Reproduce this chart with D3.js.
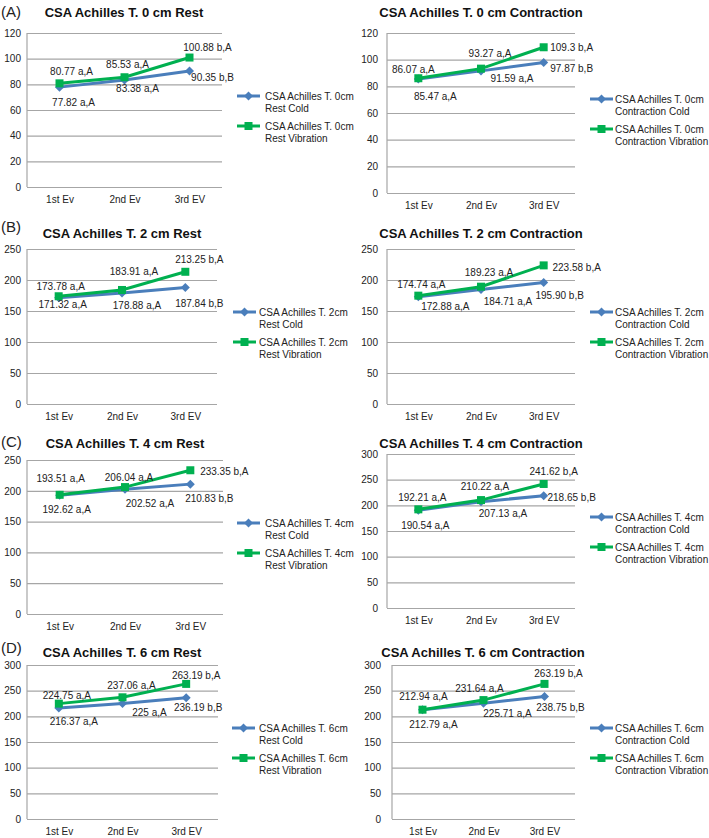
<!DOCTYPE html>
<html>
<head>
<meta charset="utf-8">
<script src="https://cdn.jsdelivr.net/npm/d3@7"></script>
<style>
  body { margin: 0; background: #fff; }
  svg { font-family: "Liberation Sans", Arial, sans-serif; }
</style>
</head>
<body>
<div id="chart"></div>
<script>
// data
const categories = ["1st Ev", "2nd Ev", "3rd EV"];
const rowLetters = ["(A)", "(B)", "(C)", "(D)"];
const titles = [
    "CSA Achilles T. 0 cm Rest", "CSA Achilles T. 0 cm Contraction",
    "CSA Achilles T. 2 cm Rest", "CSA Achilles T. 2 cm Contraction",
    "CSA Achilles T. 4 cm Rest", "CSA Achilles T. 4 cm Contraction",
    "CSA Achilles T. 6 cm Rest", "CSA Achilles T. 6 cm Contraction"
];
const legendHeads = ["CSA Achilles T. 0cm", "CSA Achilles T. 0cm", "CSA Achilles T. 2cm", "CSA Achilles T. 2cm",
    "CSA Achilles T. 4cm", "CSA Achilles T. 4cm", "CSA Achilles T. 6cm", "CSA Achilles T. 6cm"];
const conditions = ["Rest", "Contraction", "Rest", "Contraction", "Rest", "Contraction", "Rest", "Contraction"];
// values kept as printed strings (the figure prints 195.90 and 225)
const coldValues = [
    ["77.82", "83.38", "90.35"], ["85.47", "91.59", "97.87"],
    ["171.32", "178.88", "187.84"], ["172.88", "184.71", "195.90"],
    ["192.62", "202.52", "210.83"], ["190.54", "207.13", "218.65"],
    ["216.37", "225", "236.19"], ["212.79", "225.71", "238.75"]
];
const vibValues = [
    ["80.77", "85.53", "100.88"], ["86.07", "93.27", "109.3"],
    ["173.78", "183.91", "213.25"], ["174.74", "189.23", "223.58"],
    ["193.51", "206.04", "233.35"], ["192.21", "210.22", "241.62"],
    ["224.75", "237.06", "263.19"], ["212.94", "231.64", "263.19"]
];
const coldLetters = ["a,A", "a,A", "b,B"];
const vibLetters = ["a,A", "a,A", "b,A"];
const yMax = [120, 120, 250, 250, 250, 300, 300, 300];
const yStep = [20, 20, 50, 50, 50, 50, 50, 50];

// layout (pixels)
const layouts = [
    {x0: 27, x1: 222, y0: 33, y1: 187, tx: 124, ty: 12, lx: 237, ly: 96, ltx: 265, pad: 6},
    {x0: 387, x1: 575, y0: 33, y1: 193, tx: 481, ty: 12, lx: 590, ly: 99, ltx: 615, pad: 9},
    {x0: 27, x1: 217, y0: 249, y1: 404, tx: 122, ty: 233, lx: 233, ly: 312, ltx: 259, pad: 6},
    {x0: 387, x1: 575, y0: 249, y1: 404, tx: 481, ty: 233, lx: 590, ly: 312, ltx: 615, pad: 9},
    {x0: 27, x1: 223, y0: 460, y1: 614, tx: 125, ty: 443, lx: 237, ly: 523, ltx: 265, pad: 6},
    {x0: 387, x1: 575, y0: 454, y1: 608, tx: 481, ty: 443, lx: 590, ly: 517, ltx: 615, pad: 9},
    {x0: 27, x1: 218, y0: 665, y1: 819, tx: 122, ty: 652, lx: 232, ly: 728, ltx: 259, pad: 6},
    {x0: 392, x1: 575, y0: 665, y1: 819, tx: 483, ty: 652, lx: 590, ly: 728, ltx: 615, pad: 11}
];
const rowLetterY = [12, 227, 442, 648];
// data label nudges [dx, dy] from the point
const coldNudge = [
    [[14, 15], [13, 9], [23, 6]], [[17, 17], [31, 8], [28, 6]],
    [[4, 7], [15, 12], [14, 16]], [[27, 10], [27, 12], [16, 13]],
    [[7, 14], [25, 14], [19, 14]], [[7, 15], [22, 12], [28, 2]],
    [[15, 14], [27, 9], [12, 10]], [[11, 15], [24, 10], [16, 11]]
];
const vibNudge = [
    [[12, -12], [3, -13], [18, -10]], [[-5, -9], [9, -15], [28, 0]],
    [[2, -10], [12, -18], [14, -12]], [[3, -11], [8, -14], [33, 2]],
    [[1, -16], [4, -10], [34, 1]], [[4, -12], [4, -14], [10, -12]],
    [[8, -8], [9, -12], [10, -8]], [[1, -13], [-4, -12], [14, -10]]
];

const blue = "#4a7ebb", green = "#00b050", grid = "#a6a6a6";

const svg = d3.select("#chart").append("svg")
    .attr("width", 709).attr("height", 838);

rowLetters.forEach((t, i) => {
    svg.append("text").attr("x", 1).attr("y", rowLetterY[i]).attr("dy", "0.35em")
        .attr("font-size", 15).attr("fill", "#222").text(t);
});

function drawMarker(g, kind, x, y, color) {
    if (kind === "square") {
        g.append("rect").attr("x", x - 4).attr("y", y - 4).attr("width", 8).attr("height", 8).attr("fill", color);
    } else {
        g.append("path").attr("d", `M${x},${y - 4.5}L${x + 4.5},${y}L${x},${y + 4.5}L${x - 4.5},${y}Z`).attr("fill", color);
    }
}

titles.forEach((title, p) => {
    const L = layouts[p];
    const g = svg.append("g");
    const x = d3.scalePoint().domain(categories).range([L.x0, L.x1]).padding(0.5);
    const y = d3.scaleLinear().domain([0, yMax[p]]).range([L.y1, L.y0]);

    g.append("text").attr("x", L.tx).attr("y", L.ty).attr("dy", "0.35em")
        .attr("text-anchor", "middle").attr("font-size", 13).attr("font-weight", "bold")
        .attr("fill", "#111").text(title);

    const yAxis = g.append("g").attr("transform", `translate(${L.x0},0)`)
        .call(d3.axisLeft(y).tickValues(d3.range(0, yMax[p] + 1, yStep[p]))
            .tickSize(-(L.x1 - L.x0)).tickPadding(L.pad));
    yAxis.select(".domain").remove();
    yAxis.selectAll(".tick line").attr("stroke", grid).attr("stroke-width", 1.2);
    yAxis.selectAll(".tick text").attr("font-size", 10).attr("fill", "#222")
        .attr("font-family", "Liberation Sans, Arial, sans-serif");

    g.append("line").attr("x1", L.x0).attr("x2", L.x0).attr("y1", L.y0).attr("y2", L.y1)
        .attr("stroke", grid).attr("stroke-width", 1.2);

    const xAxis = g.append("g").attr("transform", `translate(0,${L.y1})`)
        .call(d3.axisBottom(x).tickSize(0).tickPadding(9));
    xAxis.select(".domain").remove();
    xAxis.selectAll(".tick text").attr("font-size", 10).attr("fill", "#222")
        .attr("font-family", "Liberation Sans, Arial, sans-serif");

    const series = [
        {vals: coldValues[p], letters: coldLetters, nudge: coldNudge[p], color: blue, marker: "diamond"},
        {vals: vibValues[p], letters: vibLetters, nudge: vibNudge[p], color: green, marker: "square"}
    ];
    const line = d3.line().x((d, i) => x(categories[i])).y(d => y(+d));

    series.forEach(s => {
        g.append("path").datum(s.vals).attr("d", line)
            .attr("fill", "none").attr("stroke", s.color).attr("stroke-width", 3);
        s.vals.forEach((v, i) => drawMarker(g, s.marker, x(categories[i]), y(+v), s.color));
    });
    series.forEach(s => {
        s.vals.forEach((v, i) => {
            g.append("text")
                .attr("x", x(categories[i]) + s.nudge[i][0])
                .attr("y", y(+v) + s.nudge[i][1])
                .attr("dy", "0.35em").attr("text-anchor", "middle")
                .attr("font-size", 10).attr("fill", "#222")
                .text(`${v} ${s.letters[i]}`);
        });
    });

    // legend
    const legendItems = [
        {color: blue, marker: "diamond", sub: conditions[p] + " Cold"},
        {color: green, marker: "square", sub: conditions[p] + " Vibration"}
    ];
    legendItems.forEach((item, k) => {
        const ly = L.ly + k * 30;
        g.append("line").attr("x1", L.lx).attr("x2", L.lx + 23).attr("y1", ly).attr("y2", ly)
            .attr("stroke", item.color).attr("stroke-width", 3);
        drawMarker(g, item.marker, L.lx + 11.5, ly, item.color);
        const t = g.append("text").attr("x", L.ltx).attr("y", ly).attr("dy", "0.35em")
            .attr("font-size", 10).attr("fill", "#222");
        t.append("tspan").attr("x", L.ltx).text(legendHeads[p]);
        t.append("tspan").attr("x", L.ltx).attr("dy", 12).text(item.sub);
    });
});
</script>
</body>
</html>
